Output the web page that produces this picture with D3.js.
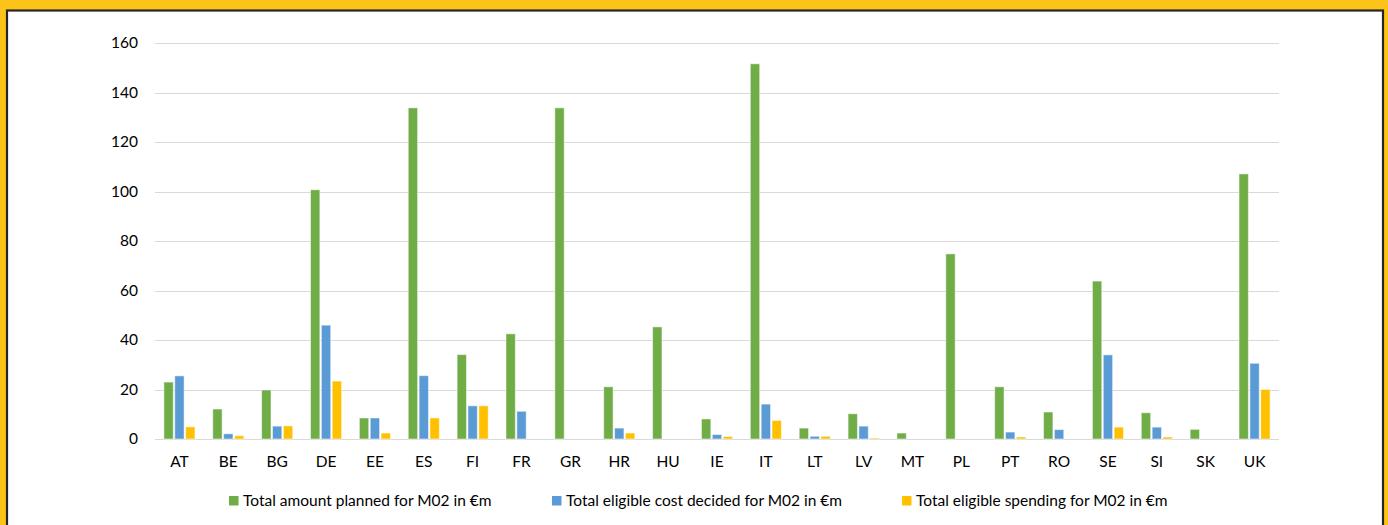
<!DOCTYPE html>
<html>
<head>
<meta charset="utf-8">
<script src="https://cdn.jsdelivr.net/npm/d3@7/dist/d3.min.js"></script>
<style>
  html, body { margin: 0; padding: 0; background: #fff; }
  svg { display: block; }
</style>
</head>
<body>
<svg id="chart" width="1388" height="525"></svg>
<script>
// Member states
const categories = ["AT","BE","BG","DE","EE","ES","FI","FR","GR","HR","HU","IE","IT","LT","LV","MT","PL","PT","RO","SE","SI","SK","UK"];

// Measure M02 amounts, € million
const planned  = [23, 12.1, 19.8, 100.7, 8.5, 133.8, 34.1, 42.5, 133.8, 21.1, 45.3, 8.1, 151.6, 4.4, 10.2, 2.4, 74.8, 21.1, 10.9, 63.8, 10.6, 3.9, 107.1];
const decided  = [25.5, 2.1, 5.2, 46, 8.5, 25.6, 13.4, 11.2, 0, 4.4, 0, 1.8, 14.1, 1.1, 5.2, 0, 0, 2.8, 3.8, 34, 4.8, 0, 30.6];
const spending = [4.9, 1.3, 5.3, 23.4, 2.4, 8.5, 13.4, 0, 0, 2.4, 0, 1.0, 7.5, 1.1, 0.4, 0, 0, 0.8, 0, 4.8, 0.8, 0, 20];

const seriesNames = [
  "Total amount planned for M02 in €m",
  "Total eligible cost decided for M02 in €m",
  "Total eligible spending for M02 in €m"
];
const seriesColors = ["#70AD47", "#5B9BD5", "#FFC000"];
const seriesValues = [planned, decided, spending];
const yTicks = [0, 20, 40, 60, 80, 100, 120, 140, 160];

const svg = d3.select("#chart");
const W = 1388, H = 525;
const font = "Lato, 'Open Sans', sans-serif";
const fs = 15.5;

// Frame: yellow band with a dark inner line
svg.append("rect").attr("x", 0).attr("y", 0).attr("width", W).attr("height", H).attr("fill", "#FCC419");
svg.append("rect").attr("x", 7).attr("y", 10.5).attr("width", W - 12).attr("height", H)
  .attr("fill", "#fff").attr("stroke", "#262626").attr("stroke-width", 2.2);

const plot = { left: 155, right: 1279, top: 43, bottom: 439 };

const x = d3.scaleBand().domain(categories).range([plot.left, plot.right]).paddingInner(0).paddingOuter(0);
const y = d3.scaleLinear().domain([0, 160]).range([plot.bottom, plot.top]);

// Gridlines
svg.append("g").selectAll("line").data(yTicks).join("line")
  .attr("x1", plot.left).attr("x2", plot.right)
  .attr("y1", d => Math.round(y(d)) + 0.5).attr("y2", d => Math.round(y(d)) + 0.5)
  .attr("stroke", "#d9d9d9").attr("stroke-width", 1);

// Y axis labels
const yAxis = d3.axisLeft(y).tickValues(yTicks).tickSize(0).tickPadding(17);
const gy = svg.append("g").attr("transform", `translate(${plot.left},0)`).call(yAxis);
gy.select(".domain").remove();
gy.selectAll("text").attr("font-family", font).attr("font-size", fs).attr("fill", "#000");

// X axis labels
const xAxis = d3.axisBottom(x).tickSize(0).tickPadding(17);
const gx = svg.append("g").attr("transform", `translate(0,${plot.bottom})`).call(xAxis);
gx.select(".domain").remove();
gx.selectAll("text").attr("font-family", font).attr("font-size", fs).attr("fill", "#000");

// Clustered bars: three series per category, gap width 150%
const slot = x.bandwidth() / 4.5;
const inner = d3.scaleBand().domain([0, 1, 2]).range([0, slot * 3]);
const groupOffset = (x.bandwidth() - slot * 3) / 2;

seriesValues.forEach((vals, s) => {
  svg.append("g").selectAll("rect").data(categories.map((c, i) => ({ c, v: vals[i] })))
    .join("rect")
    .filter(d => d.v > 0)
    .attr("x", d => x(d.c) + groupOffset + inner(s) + 0.75)
    .attr("width", inner.bandwidth() - 1.5)
    .attr("y", d => y(d.v))
    .attr("height", d => y(0) - y(d.v))
    .attr("fill", seriesColors[s])
    .attr("stroke", "#fff").attr("stroke-opacity", 0.5).attr("stroke-width", 1);
});

// Legend
const legendItems = [
  { sx: 229, tx: 243 },
  { sx: 552, tx: 566 },
  { sx: 902, tx: 916 }
];
const lg = svg.append("g");
legendItems.forEach((p, i) => {
  lg.append("rect").attr("x", p.sx).attr("y", 496).attr("width", 9.5).attr("height", 9.5).attr("fill", seriesColors[i]);
  lg.append("text").attr("x", p.tx).attr("y", 505.5).text(seriesNames[i])
    .attr("font-family", font).attr("font-size", fs).attr("fill", "#000");
});
</script>
</body>
</html>
